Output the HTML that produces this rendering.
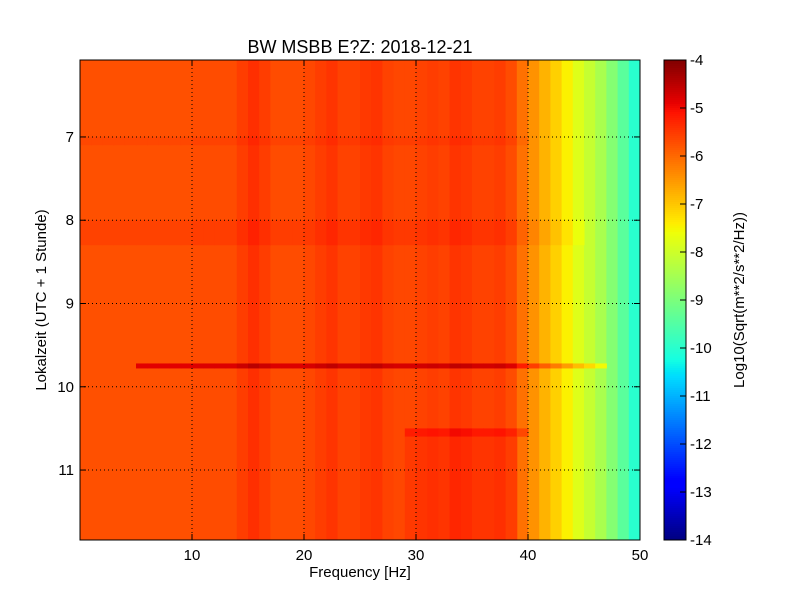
<!DOCTYPE html>
<html><head><meta charset="utf-8"><style>
body{margin:0;background:#fff;}
svg text{font-family:"Liberation Sans","DejaVu Sans",sans-serif;fill:#000;}
</style></head><body>
<svg id="chart" width="800" height="600" viewBox="0 0 800 600" xmlns="http://www.w3.org/2000/svg">
<rect width="800" height="600" fill="#fff"/>
<g id="heat"></g>
<g id="grid"></g>
<rect x="80" y="60" width="560" height="480" fill="none" stroke="#000" stroke-width="1"/>
<g id="xticks"></g>
<g id="yticks"></g>
<text x="360" y="53" font-size="18" text-anchor="middle">BW MSBB E?Z: 2018-12-21</text>
<text x="360" y="577" font-size="15" text-anchor="middle">Frequency [Hz]</text>
<text transform="translate(46,300) rotate(-90)" font-size="15" text-anchor="middle">Lokalzeit (UTC + 1 Stunde)</text>
<g id="cbar"></g>
<text transform="translate(744,300) rotate(-90)" font-size="15" text-anchor="middle">Log10(Sqrt(m**2/s**2/Hz))</text>
</svg>
<script>
const freqBins=[0,1,2,3,4,5,6,7,8,9,10,11,12,13,14,15,16,17,18,19,20,21,22,23,24,25,26,27,28,29,30,31,32,33,34,35,36,37,38,39,40,41,42,43,44,45,46,47,48,49];
const levels=[-5.75,-5.75,-5.75,-5.75,-5.75,-5.75,-5.75,-5.75,-5.75,-5.75,-5.7,-5.7,-5.7,-5.7,-5.55,-5.4,-5.55,-5.7,-5.7,-5.7,-5.65,-5.55,-5.45,-5.6,-5.6,-5.5,-5.45,-5.6,-5.65,-5.65,-5.6,-5.55,-5.6,-5.45,-5.5,-5.6,-5.6,-5.55,-5.7,-6.1,-6.45,-6.8,-7.1,-7.45,-7.8,-8.1,-8.45,-8.9,-9.4,-10.0];
const evStart=[9.72,10.5,10.6,8.0,7.0];
const evEnd=[9.78,10.6,11.84,8.3,7.1];
const evF0=[5,29,29,0,0];
const evF1=[47,40,39,45,40];
const evDelta=[0.9,0.45,0.15,0.15,0.1];
const xTicks=[10,20,30,40,50];
const yTicks=[7,8,9,10,11];
const cbTicks=[-4,-5,-6,-7,-8,-9,-10,-11,-12,-13,-14];
const T0=6.076,T1=11.84,F0=0,F1=50,V0=-14,V1=-4;
const X=f=>80+(f-F0)/(F1-F0)*560;
const Y=t=>60+(t-T0)/(T1-T0)*480;
const NS="http://www.w3.org/2000/svg";
function seg(pts,x){for(let i=1;i<pts.length;i++){if(x<=pts[i][0]){const a=pts[i-1],b=pts[i];return a[1]+(b[1]-a[1])*(x-a[0])/(b[0]-a[0]);}}return pts[pts.length-1][1];}
function jet(v){const x=Math.max(0,Math.min(1,(v-V0)/(V1-V0)));
const r=seg([[0,0],[0.35,0],[0.66,1],[0.89,1],[1,0.5]],x);
const g=seg([[0,0],[0.125,0],[0.375,1],[0.64,1],[0.91,0],[1,0]],x);
const b=seg([[0,0.5],[0.11,1],[0.34,1],[0.65,0],[1,0]],x);
return `rgb(${Math.round(r*255)},${Math.round(g*255)},${Math.round(b*255)})`;}
function mk(tag,attrs,parent){const e=document.createElementNS(NS,tag);for(const k in attrs)e.setAttribute(k,attrs[k]);parent.appendChild(e);return e;}
const heat=document.getElementById('heat');
freqBins.forEach((f,i)=>{
 const r=mk('rect',{x:X(f),y:Y(T0),width:X(f+1)-X(f)+0.5,height:Y(T1)-Y(T0),fill:jet(levels[i])},heat);
 
 
});
evStart.forEach((s,k)=>{
 freqBins.forEach((f,i)=>{
  if(f<evF0[k]||f>=evF1[k])return;
  const r=mk('rect',{x:X(f),y:Y(s),width:X(f+1)-X(f)+0.5,height:Y(evEnd[k])-Y(s),fill:jet(levels[i]+evDelta[k])},heat);
  
  
 });
});
const grid=document.getElementById('grid'),xt=document.getElementById('xticks'),yt=document.getElementById('yticks');
xTicks.forEach(v=>{const x=X(v);
 if(v<F1){const l=mk('line',{x1:x,x2:x,y1:60,y2:540,stroke:'#000','stroke-dasharray':'1,3','stroke-width':1},grid);
 
 }
 mk('line',{x1:x,x2:x,y1:540,y2:534,stroke:'#000'},xt);mk('line',{x1:x,x2:x,y1:60,y2:66,stroke:'#000'},xt);
 const t=mk('text',{x:x,y:560,'font-size':15,'text-anchor':'middle'},xt);t.textContent=v;
 
 
});
yTicks.forEach(v=>{const y=Y(v);
 const l=mk('line',{x1:80,x2:640,y1:y,y2:y,stroke:'#000','stroke-dasharray':'1,3','stroke-width':1},grid);
 
 
 mk('line',{x1:80,x2:86,y1:y,y2:y,stroke:'#000'},yt);mk('line',{x1:640,x2:634,y1:y,y2:y,stroke:'#000'},yt);
 const t=mk('text',{x:74,y:y+5,'font-size':15,'text-anchor':'end'},yt);t.textContent=v;
 
 
});
const cb=document.getElementById('cbar');
for(let i=0;i<240;i++){const v=V1-(i+0.5)/240*(V1-V0);mk('rect',{x:664,y:60+i*2,width:22,height:2.5,fill:jet(v)},cb);}
mk('rect',{x:664,y:60,width:22,height:480,fill:'none',stroke:'#000'},cb);
cbTicks.forEach(v=>{const y=60+(V1-v)/(V1-V0)*480;
 mk('line',{x1:680,x2:686,y1:y,y2:y,stroke:'#000'},cb);
 const t=mk('text',{x:690,y:y+5,'font-size':15},cb);t.textContent=v;
 
 
});
</script>
</body></html>
